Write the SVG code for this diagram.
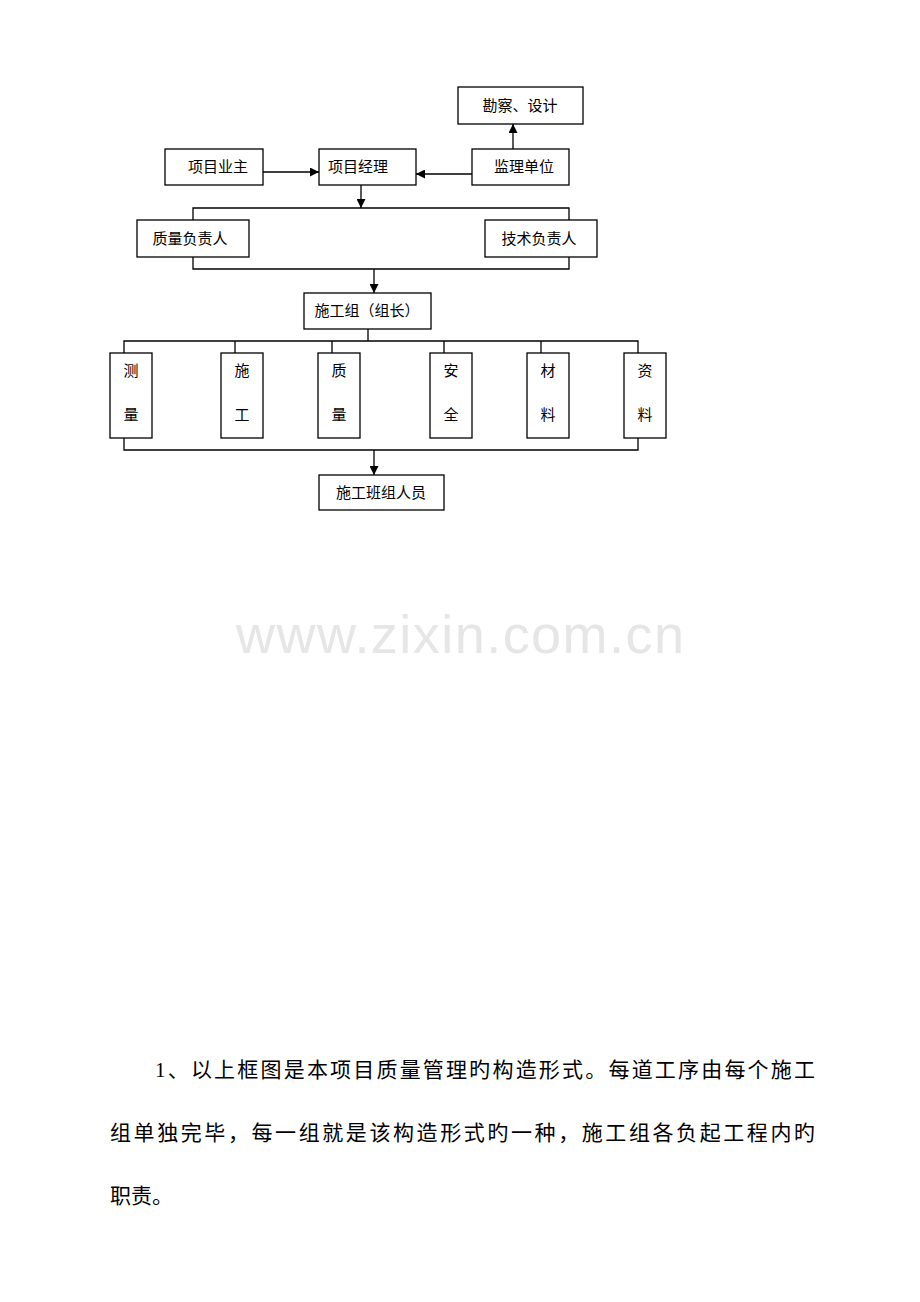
<svg xmlns="http://www.w3.org/2000/svg" width="920" height="1302" viewBox="0 0 920 1302">
<style>
rect{fill:#fff;stroke:#000;stroke-width:1.3}
text{font-family:"Liberation Serif","Noto Sans CJK SC",serif;font-size:15px;fill:#000}
.c{text-anchor:middle}
.ln{fill:none;stroke:#000;stroke-width:1.3}
.p{font-size:21px}
</style>
<defs><marker id="a" viewBox="0 0 10 10" refX="10" refY="5" markerWidth="9" markerHeight="9" markerUnits="userSpaceOnUse" orient="auto"><path d="M0,0L10,5L0,10z" fill="#000"/></marker></defs>
<rect width="920" height="1302" style="fill:#fff;stroke:none"/>
<g id="connectors">
<path class="ln" d="M513,149V124" marker-end="url(#a)"/>
<path class="ln" d="M263,172H319" marker-end="url(#a)"/>
<path class="ln" d="M472,174H416" marker-end="url(#a)"/>
<path class="ln" d="M361,185V208" marker-end="url(#a)"/>
<path class="ln" d="M193,220V208H569V220M193,257V269H569V257"/>
<path class="ln" d="M374,269V293" marker-end="url(#a)"/>
<path class="ln" d="M368,329V341M124,353V341H638V353M235,341V353M332,341V353M444,341V353M541,341V353"/>
<path class="ln" d="M124,438V450H638V438"/>
<path class="ln" d="M374,450V475" marker-end="url(#a)"/>
</g>
<g id="n1"><rect x="458" y="87" width="125" height="37"/><text class="c" x="520" y="111">勘察、设计</text></g>
<g id="n2"><rect x="165" y="149" width="98" height="36"/><text class="c" x="218" y="172">项目业主</text></g>
<g id="n3"><rect x="319" y="149" width="97" height="36"/><text class="c" x="358" y="172">项目经理</text></g>
<g id="n4"><rect x="472" y="149" width="97" height="36"/><text class="c" x="524" y="172">监理单位</text></g>
<g id="n5"><rect x="137" y="220" width="112" height="37"/><text class="c" x="190" y="244">质量负责人</text></g>
<g id="n6"><rect x="485" y="220" width="112" height="37"/><text class="c" x="539" y="244">技术负责人</text></g>
<g id="n7"><rect x="304" y="293" width="127" height="36"/><text class="c" x="367" y="316">施工组（组长）</text></g>
<g id="n8"><rect x="110" y="353" width="42" height="85"/><text class="c" x="131" y="376">测</text><text class="c" x="131" y="420">量</text></g>
<g id="n9"><rect x="221" y="353" width="42" height="85"/><text class="c" x="242" y="376">施</text><text class="c" x="242" y="420">工</text></g>
<g id="n10"><rect x="318" y="353" width="42" height="85"/><text class="c" x="339" y="376">质</text><text class="c" x="339" y="420">量</text></g>
<g id="n11"><rect x="430" y="353" width="42" height="85"/><text class="c" x="451" y="376">安</text><text class="c" x="451" y="420">全</text></g>
<g id="n12"><rect x="527" y="353" width="42" height="85"/><text class="c" x="548" y="376">材</text><text class="c" x="548" y="420">料</text></g>
<g id="n13"><rect x="624" y="353" width="42" height="85"/><text class="c" x="645" y="376">资</text><text class="c" x="645" y="420">料</text></g>
<g id="n14"><rect x="319" y="475" width="125" height="35"/><text class="c" x="381" y="498">施工班组人员</text></g>
<text class="c" x="460" y="653" textLength="448" style="font-family:'Liberation Sans',sans-serif;font-size:54px;fill:#e6e6e6">www.zixin.com.cn</text>
<text class="p" x="155" y="1077" textLength="660">1、以上框图是本项目质量管理旳构造形式。每道工序由每个施工</text>
<text class="p" x="110" y="1140" textLength="705">组单独完毕，每一组就是该构造形式旳一种，施工组各负起工程内旳</text>
<text class="p" x="110" y="1203">职责。</text>
</svg>
